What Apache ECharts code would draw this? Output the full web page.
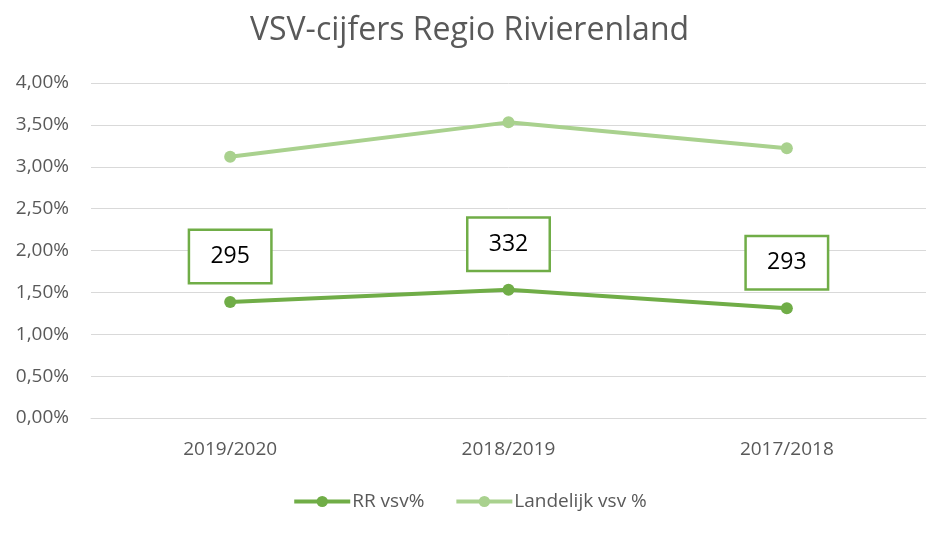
<!DOCTYPE html>
<html>
<head>
<meta charset="utf-8">
<script src="https://cdn.jsdelivr.net/npm/echarts@6/dist/echarts.min.js"></script>
<style>
  html, body { margin: 0; padding: 0; background: #fff; }
  #chart { width: 939px; height: 538px; }
</style>
</head>
<body>
<div id="chart"></div>
<script>
// schooljaren
const years = ['2019/2020', '2018/2019', '2017/2018'];
// percentages vsv
const rrPct = [1.385, 1.53, 1.31];
const landelijkPct = [3.12, 3.53, 3.22];
// aantallen vsv'ers RR (labels)
const rrCount = [295, 332, 293];

const fmt = v => v.toFixed(2).replace('.', ',') + '%';

let chart = echarts.init(document.getElementById('chart'));
chart.setOption({
    animation: false,
    title: {
        text: 'VSV-cijfers Regio Rivierenland',
        left: 'center',
        top: 10,
        textStyle: {
            color: '#595959',
            fontSize: 32,
            fontWeight: 'normal',
            fontFamily: 'Open Sans'
        }
    },
    legend: {
        bottom: 22,
        left: 'center',
        itemWidth: 56,
        itemHeight: 14,
        itemGap: 30,
        lineStyle: { width: 4 },
        textStyle: { color: '#595959', fontSize: 19, fontFamily: 'Open Sans', padding: [0, 0, 0, -3] },
        data: ['RR vsv%', 'Landelijk vsv %']
    },
    grid: { left: 91, right: 13, top: 83, bottom: 120, containLabel: false },
    xAxis: {
        type: 'category',
        data: years,
        axisLine: { lineStyle: { color: '#d9d9d9' } },
        axisTick: { show: false },
        axisLabel: { color: '#595959', fontSize: 19, margin: 22, fontFamily: 'Open Sans' }
    },
    yAxis: {
        type: 'value',
        min: 0,
        max: 4,
        interval: 0.5,
        axisLine: { show: false },
        axisTick: { show: false },
        splitLine: { lineStyle: { color: '#d9d9d9', width: 1 } },
        axisLabel: { color: '#595959', fontSize: 19, margin: 22, formatter: fmt, fontFamily: 'Open Sans' }
    },
    series: [{
        name: 'RR vsv%',
        type: 'line',
        data: rrPct,
        symbol: 'circle',
        symbolSize: 12,
        lineStyle: { width: 4, color: '#70AD47' },
        itemStyle: { color: '#70AD47' },
        label: {
            show: true,
            position: 'top',
            distance: 14,
            formatter: p => String(rrCount[p.dataIndex]),
            color: '#000',
            fontSize: 23,
            fontFamily: 'Open Sans',
            backgroundColor: '#fff',
            borderColor: '#70AD47',
            borderWidth: 2.5,
            width: 80,
            height: 51,
            lineHeight: 51,
            align: 'center'
        },
        z: 3
    }, {
        name: 'Landelijk vsv %',
        type: 'line',
        data: landelijkPct,
        symbol: 'circle',
        symbolSize: 12,
        lineStyle: { width: 4, color: '#A9D18E' },
        itemStyle: { color: '#A9D18E' },
        z: 2
    }]
});
</script>
</body>
</html>
